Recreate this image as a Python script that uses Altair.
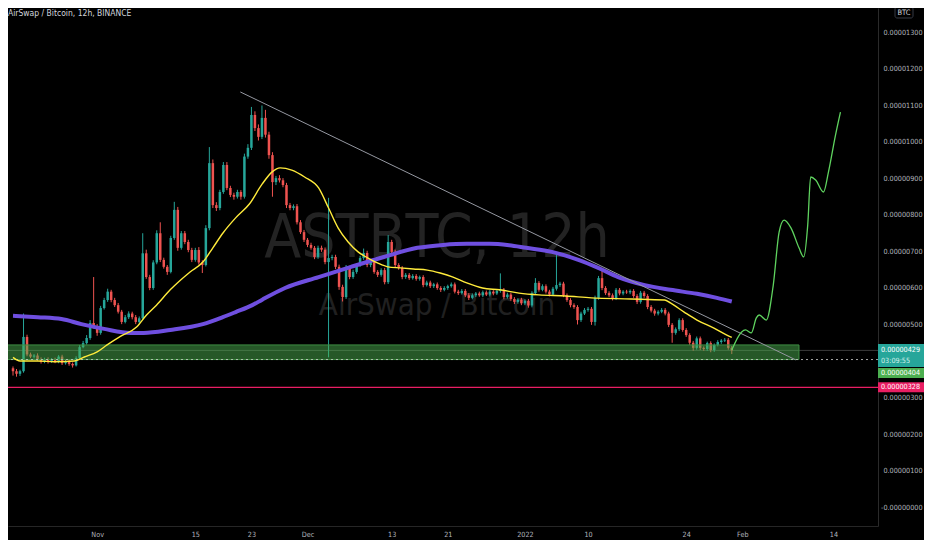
import altair as alt
import pandas as pd

# AST/BTC 12h candles, prices in satoshi (1e-8 BTC)
first_open = 380
closes = [372, 365, 372, 466, 418, 412, 415, 405, 398, 405,
          398, 404, 398, 412, 394, 400, 392, 388, 408, 438,
          449, 463, 504, 495, 477, 545, 567, 590, 567, 553,
          535, 507, 520, 530, 520, 507, 517, 695, 630, 600,
          670, 750, 677, 658, 644, 737, 814, 710, 750, 726,
          704, 677, 704, 670, 663, 764, 942, 827, 819, 863,
          937, 874, 855, 850, 863, 850, 960, 984, 1074, 1038,
          1014, 1066, 1020, 964, 890, 901, 895, 882, 827, 819,
          824, 780, 753, 732, 718, 710, 685, 710, 705, 671,
          682, 685, 658, 603, 575, 655, 630, 644, 663, 682,
          696, 663, 671, 644, 636, 649, 616, 726, 699, 663,
          655, 630, 636, 627, 633, 625, 630, 608, 615, 605,
          610, 600, 595, 600, 605, 610, 590, 586, 592, 580,
          573, 580, 585, 580, 588, 582, 590, 585, 592, 595,
          575, 582, 570, 562, 568, 558, 565, 552, 586, 614,
          595, 605, 590, 582, 598, 608, 612, 580, 567, 553,
          548, 512, 530, 540, 543, 507, 573, 627, 600, 586,
          580, 572, 595, 585, 590, 588, 592, 578, 562, 587,
          578, 548, 538, 530, 535, 540, 530, 499, 477, 487,
          512, 485, 471, 450, 436, 462, 436, 433, 449, 430,
          444, 452, 456, 458, 436, 429]
# wick length above / below the body
wick_hi = [5, 6, 4, 64, 6, 5, 4, 6, 5, 4,
           5, 4, 5, 4, 5, 4, 4, 4, 5, 6,
           6, 8, 8, 126, 6, 6, 6, 8, 5, 6,
           6, 5, 6, 6, 5, 6, 5, 55, 10, 6,
           6, 8, 30, 6, 5, 6, 22, 8, 6, 6,
           6, 6, 6, 8, 6, 8, 44, 10, 8, 6,
           8, 8, 6, 6, 6, 5, 8, 10, 22, 10,
           10, 34, 22, 8, 8, 6, 8, 6, 6, 6,
           5, 6, 6, 6, 5, 6, 5, 6, 6, 6,
           165, 6, 6, 6, 6, 8, 6, 6, 5, 6,
           12, 6, 5, 6, 5, 5, 6, 19, 6, 6,
           5, 5, 5, 5, 5, 5, 4, 5, 5, 5,
           4, 5, 5, 5, 4, 5, 5, 5, 5, 5,
           6, 5, 4, 5, 5, 5, 5, 4, 5, 45,
           5, 5, 5, 5, 4, 5, 4, 5, 5, 13,
           5, 5, 5, 5, 5, 90, 5, 5, 5, 5,
           5, 5, 5, 5, 5, 5, 6, 6, 28, 5,
           5, 5, 5, 5, 4, 5, 4, 5, 5, 5,
           5, 5, 5, 5, 4, 5, 5, 5, 5, 5,
           5, 5, 5, 5, 5, 5, 5, 4, 4, 5,
           4, 5, 4, 5, 5, 5]
wick_lo = [12, 8, 6, 4, 5, 4, 5, 4, 5, 4,
           5, 3, 4, 4, 5, 4, 5, 6, 3, 4,
           3, 4, 5, 6, 8, 5, 4, 5, 6, 5,
           5, 6, 4, 5, 6, 6, 4, 4, 5, 6,
           5, 5, 6, 5, 8, 4, 5, 8, 5, 6,
           6, 6, 5, 6, 22, 4, 6, 8, 8, 6,
           5, 6, 6, 8, 5, 8, 5, 6, 6, 8,
           10, 6, 8, 10, 40, 8, 6, 6, 8, 6,
           6, 6, 5, 6, 6, 5, 6, 5, 6, 6,
           261, 6, 6, 8, 12, 5, 6, 5, 5, 5,
           5, 6, 6, 5, 6, 5, 6, 5, 6, 6,
           5, 6, 5, 5, 4, 5, 5, 6, 4, 5,
           5, 5, 6, 4, 5, 4, 5, 5, 4, 5,
           6, 4, 5, 4, 5, 4, 5, 5, 4, 5,
           6, 4, 5, 6, 5, 5, 5, 6, 5, 5,
           5, 4, 5, 5, 4, 5, 5, 5, 5, 6,
           5, 12, 5, 4, 5, 8, 10, 5, 6, 5,
           5, 6, 5, 5, 5, 4, 5, 5, 6, 5,
           5, 6, 5, 6, 5, 4, 5, 6, 27, 5,
           5, 5, 5, 6, 8, 5, 6, 5, 5, 6,
           5, 4, 5, 4, 5, 10]

# short moving average (yellow)
yellow_t = ["2021-10-20T00:00", "2021-10-21T00:00", "2021-10-23T13:00", "2021-10-25T22:00",
            "2021-10-28T18:00", "2021-10-30T04:00", "2021-11-01T00:00", "2021-11-02T10:00",
            "2021-11-04T09:00", "2021-11-06T15:00", "2021-11-08T01:00", "2021-11-09T11:00",
            "2021-11-11T10:00", "2021-11-14T06:00", "2021-11-16T02:00", "2021-11-17T12:00",
            "2021-11-18T22:00", "2021-11-20T18:00", "2021-11-22T17:00", "2021-11-24T13:00",
            "2021-11-25T23:00", "2021-11-27T02:00", "2021-11-28T18:00", "2021-11-30T14:00",
            "2021-12-02T14:00", "2021-12-04T00:00", "2021-12-05T09:00", "2021-12-06T19:00",
            "2021-12-08T05:00", "2021-12-09T15:00", "2021-12-11T01:00", "2021-12-12T11:00",
            "2021-12-14T06:00", "2021-12-16T02:00", "2021-12-18T02:00", "2021-12-19T22:00",
            "2021-12-21T18:00", "2021-12-23T17:00", "2021-12-25T23:00", "2021-12-28T09:00",
            "2021-12-31T04:00", "2022-01-03T00:00", "2022-01-06T19:00", "2022-01-10T11:00",
            "2022-01-16T03:00", "2022-01-20T22:00", "2022-01-21T18:00", "2022-01-23T17:00",
            "2022-01-25T13:00", "2022-01-27T23:00", "2022-01-29T19:00", "2022-01-30T12:00"]
yellow_v = [410, 400, 400, 398, 400, 411, 425, 444, 468, 493, 526, 553,
            595, 644, 671, 710, 750, 792, 830, 885, 918, 929, 923, 904,
            874, 819, 764, 726, 699, 682, 668, 658, 655, 652, 649, 641,
            630, 614, 600, 595, 586, 581, 578, 573, 570, 567, 559, 534,
            512, 490, 471, 465]

# long moving average (purple)
purple_t = ["2021-10-20T00:00", "2021-10-23T13:00", "2021-10-26T22:00", "2021-10-29T18:00",
            "2021-11-02T00:00", "2021-11-05T19:00", "2021-11-07T15:00", "2021-11-11T10:00",
            "2021-11-16T02:00", "2021-11-18T22:00", "2021-11-20T18:00", "2021-11-23T03:00",
            "2021-11-24T13:00", "2021-11-27T19:00", "2021-12-02T14:00", "2021-12-07T05:00",
            "2021-12-11T21:00", "2021-12-16T16:00", "2021-12-20T08:00", "2021-12-23T17:00",
            "2021-12-26T23:00", "2021-12-29T18:00", "2022-01-01T04:00", "2022-01-04T20:00",
            "2022-01-08T15:00", "2022-01-11T11:00", "2022-01-14T07:00", "2022-01-18T02:00",
            "2022-01-21T18:00", "2022-01-25T13:00", "2022-01-28T09:00", "2022-01-30T12:00"]
purple_v = [524, 520, 515, 501, 488, 477, 477, 485, 501, 520, 534, 553,
            568, 600, 630, 658, 685, 710, 718, 721, 721, 717, 710, 699,
            677, 655, 630, 608, 595, 584, 573, 563]

# hand-drawn projection (green)
path_t = ["2022-01-30T12:00", "2022-01-31T21:00", "2022-02-01T11:00", "2022-02-02T07:00",
          "2022-02-03T00:00", "2022-02-03T10:00", "2022-02-04T10:00", "2022-02-05T10:00",
          "2022-02-06T06:00", "2022-02-06T23:00", "2022-02-07T23:00", "2022-02-09T02:00",
          "2022-02-09T18:00", "2022-02-10T08:00", "2022-02-10T18:00", "2022-02-11T11:00",
          "2022-02-12T14:00", "2022-02-13T07:00", "2022-02-14T07:00", "2022-02-15T00:00"]
path_v = [430, 479, 485, 477, 518, 526, 512, 608, 753, 786,
          764, 710, 685, 773, 904, 896, 863, 918, 1019, 1082]

trend_t = ["2021-11-21T10:00", "2022-02-08T15:00"]
trend_v = [1137, 403]
zone_t = ["2021-10-01T00:00", "2022-02-09T02:00"]
zone_v = [404, 444]
support = 328
zone_low = 404
last_price = 429
countdown = "03:09:55"

x_ticks = ["2021-11-01", "2021-11-15", "2021-11-23", "2021-12-01", "2021-12-13", "2021-12-21",
           "2022-01-01", "2022-01-10", "2022-01-24", "2022-02-01", "2022-02-14"]
y_ticks = [0, 100, 200, 300, 500, 600, 700, 800, 900, 1000, 1100, 1200, 1300]

UP = "#26a69a"
DOWN = "#ef5350"
PINK = "#e91e63"
GREEN = "#4caf50"
FONT = "DejaVu Sans Condensed, Liberation Sans Narrow, sans-serif"
LABEL_SIZE = 7.2

t = pd.date_range("2021-10-20 00:00", periods=len(closes), freq="12h")
df = pd.DataFrame({"t": t, "o": [first_open] + closes[:-1], "c": closes})
df["h"] = df[["o", "c"]].max(axis=1) + wick_hi
df["l"] = df[["o", "c"]].min(axis=1) - wick_lo

x_scale = alt.Scale(domain=[alt.DateTime(year=2021, month=10, date=20),
                            alt.DateTime(year=2022, month=2, date=19, hours=15, minutes=20)],
                    nice=False)
y_scale = alt.Scale(domain=[-52, 1367], nice=False, zero=False)


def dt(s):
    d = pd.Timestamp(s)
    return alt.DateTime(year=d.year, month=d.month, date=d.day)


x_axis = alt.Axis(values=[dt(s) for s in x_ticks], title=None, grid=False, ticks=False,
                  domainColor="#262626", labelPadding=4, labelFlush=False, labelOverlap=False,
                  labelExpr="date(datum.value) == 1 ? (month(datum.value) == 0 ? "
                            "timeFormat(datum.value, '%Y') : timeFormat(datum.value, '%b')) "
                            ": '' + date(datum.value)")
y_axis = alt.Axis(values=y_ticks, orient="right", title=None, grid=False, ticks=False,
                  domainColor="#2a2a2a", labelAlign="right", labelPadding=44,
                  labelFlush=False, labelOverlap=False, labelBound=False,
                  labelExpr="datum.value == 0 ? '-0.00000000' : format(datum.value / 100000000, '.8f')")

# same axis definition on every layer so the merged axes survive
X = lambda f: alt.X(f, scale=x_scale, axis=x_axis)
Y = lambda f: alt.Y(f, scale=y_scale, axis=y_axis)

# watermark
mark_df = pd.DataFrame({"s": ["ASTBTC, 12h", "AirSwap / Bitcoin"]})
wm_big = alt.Chart(mark_df.iloc[[0]]).mark_text(
    font=FONT, fontSize=60, color="#232323", align="center", baseline="alphabetic"
).encode(x=alt.value(429), y=alt.value(249), text="s:N")
wm_small = alt.Chart(mark_df.iloc[[1]]).mark_text(
    font=FONT, fontSize=31, color="#202020", align="center", baseline="alphabetic"
).encode(x=alt.value(429), y=alt.value(307), text="s:N")

zone = alt.Chart(pd.DataFrame({"t0": [zone_t[0]], "t1": [zone_t[1]],
                               "v0": [zone_v[0]], "v1": [zone_v[1]]})).mark_rect(
    fill=GREEN, fillOpacity=0.5, stroke="#3f8f43", strokeWidth=1, clip=True
).encode(x=X("t0:T"), x2="t1:T", y=Y("v0:Q"), y2="v1:Q")

price_line = alt.Chart(pd.DataFrame({"v": [last_price]})).mark_rule(
    color="#3a3a3a", strokeWidth=1).encode(y=Y("v:Q"))
low_line = alt.Chart(pd.DataFrame({"v": [zone_low]})).mark_rule(
    color="#d0d0d0", strokeWidth=1, strokeDash=[2, 3], opacity=0.8).encode(y=Y("v:Q"))
support_line = alt.Chart(pd.DataFrame({"v": [support]})).mark_rule(
    color=PINK, strokeWidth=1.3).encode(y=Y("v:Q"))

candle_color = alt.condition("datum.c >= datum.o", alt.value(UP), alt.value(DOWN))
wicks = alt.Chart(df).mark_rule(strokeWidth=1, clip=True).encode(
    x=X("t:T"), y=Y("l:Q"), y2="h:Q", color=candle_color)
bodies = alt.Chart(df).mark_bar(size=2.5, clip=True).encode(
    x=X("t:T"), y=Y("o:Q"), y2="c:Q", color=candle_color)

purple = alt.Chart(pd.DataFrame({"t": pd.to_datetime(purple_t), "v": purple_v})).mark_line(
    color="#6f4fe0", strokeWidth=4, interpolate="monotone", clip=True
).encode(x=X("t:T"), y=Y("v:Q"))
yellow = alt.Chart(pd.DataFrame({"t": pd.to_datetime(yellow_t), "v": yellow_v})).mark_line(
    color="#ffeb3b", strokeWidth=1.4, interpolate="monotone", clip=True
).encode(x=X("t:T"), y=Y("v:Q"))
trend = alt.Chart(pd.DataFrame({"t": pd.to_datetime(trend_t), "v": trend_v})).mark_line(
    color="#9598a1", strokeWidth=1, clip=True
).encode(x=X("t:T"), y=Y("v:Q"))
path = alt.Chart(pd.DataFrame({"t": pd.to_datetime(path_t), "v": path_v})).mark_line(
    color="#5fd35f", strokeWidth=1.3, interpolate="monotone", clip=True
).encode(x=X("t:T"), y=Y("v:Q"))

# price tags on the right scale
tags = []
for v, col, h, off in [(last_price, UP, 23, 5), (zone_low, GREEN, 10, 13.5), (support, PINK, 10, 0)]:
    d = pd.DataFrame({"v": [v], "s": [format(v / 1e8, ".8f")]})
    tags.append(alt.Chart(d).mark_rule(strokeWidth=h, yOffset=off, color=col, strokeCap="butt")
                .encode(x=alt.value(870), x2=alt.value(916), y=Y("v:Q")))
    tags.append(alt.Chart(d).mark_text(font=FONT, fontSize=LABEL_SIZE, color="#ffffff", align="left",
                                       baseline="middle", yOffset=(0 if v == last_price else off))
                .encode(x=alt.value(873), y=Y("v:Q"), text="s:N"))
cd = pd.DataFrame({"v": [last_price], "s": [countdown]})
tags.append(alt.Chart(cd).mark_text(font=FONT, fontSize=LABEL_SIZE, color="#d5f0ec", align="left",
                                    baseline="middle", yOffset=11)
            .encode(x=alt.value(873), y=Y("v:Q"), text="s:N"))

head = pd.DataFrame({"s": ["AirSwap / Bitcoin, 12h, BINANCE", "BTC"]})
title = alt.Chart(head.iloc[[0]]).mark_text(
    font=FONT, fontSize=8.5, color="#d1d4dc", align="left", baseline="alphabetic"
).encode(x=alt.value(0), y=alt.value(8), text="s:N")
btc_box = alt.Chart(head.iloc[[1]]).mark_rect(
    fill="#000000", stroke="#363a45", strokeWidth=1, cornerRadius=2
).encode(x=alt.value(887), x2=alt.value(905), y=alt.value(-1), y2=alt.value(10))
btc = alt.Chart(head.iloc[[1]]).mark_text(
    font=FONT, fontSize=7.5, color="#d1d4dc", align="center", baseline="middle"
).encode(x=alt.value(896), y=alt.value(4.5), text="s:N")

chart = alt.layer(
    wm_big, wm_small, price_line, wicks, bodies, zone, low_line, support_line,
    purple, yellow, trend, path, *tags, title, btc_box, btc
).properties(
    width=870, height=518,
    autosize=alt.AutoSizeParams(type="none"),
    padding={"left": 0, "top": 0, "right": 46, "bottom": 14},
    background="#000000",
).configure_view(stroke=None).configure_axis(
    labelFont=FONT, labelFontSize=LABEL_SIZE, labelColor="#b2b5be", domainWidth=1
)

chart.save("out.html", embed_options={"renderer": "svg", "actions": False})
